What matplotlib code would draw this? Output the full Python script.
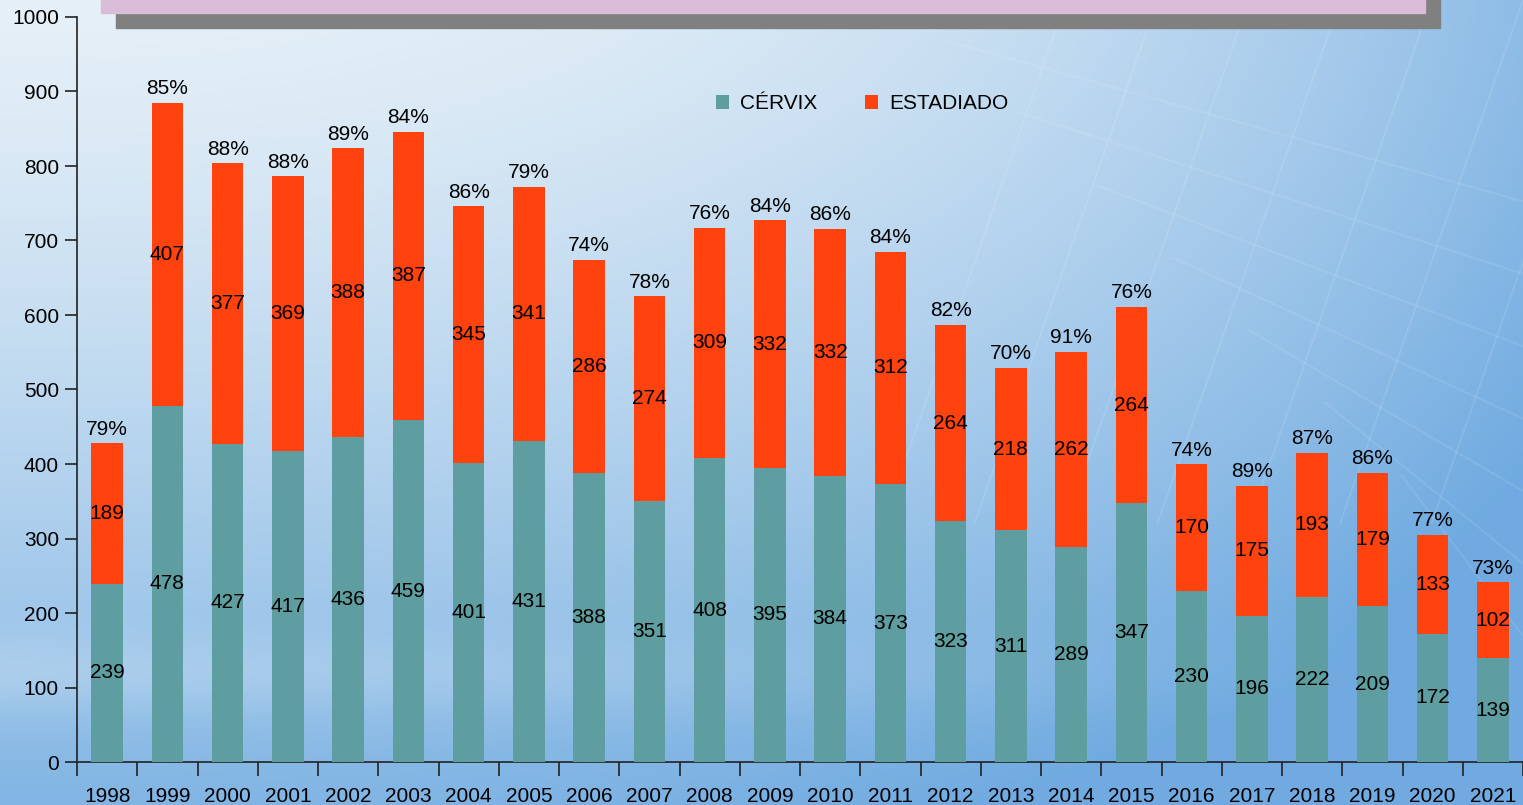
import numpy as np
import matplotlib
matplotlib.use("Agg")
import matplotlib.pyplot as plt
from matplotlib.patches import Rectangle

years = [str(y) for y in range(1998, 2022)]
cervix = [239, 478, 427, 417, 436, 459, 401, 431, 388, 351, 408, 395, 384, 373,
          323, 311, 289, 347, 230, 196, 222, 209, 172, 139]
estadiado = [189, 407, 377, 369, 388, 387, 345, 341, 286, 274, 309, 332, 332, 312,
             264, 218, 262, 264, 170, 175, 193, 179, 133, 102]
percent = ["79%", "85%", "88%", "88%", "89%", "84%", "86%", "79%", "74%", "78%", "76%", "84%",
           "86%", "84%", "82%", "70%", "91%", "76%", "74%", "89%", "87%", "86%", "77%", "73%"]

plt.rcParams['font.family'] = ['Liberation Sans', 'DejaVu Sans']

W, H = 1523, 805
fig = plt.figure(figsize=(W / 100, H / 100), dpi=100)

# background gradient
bg = fig.add_axes([0, 0, 1, 1], zorder=-10)
yy, xx = np.mgrid[0:1:300j, 0:1:450j]
light = np.array([0.90, 0.94, 0.97])
blue = np.array([0.44, 0.67, 0.88])
t = 0.85 * yy ** 1.3 + 0.75 * (xx ** 2.5) * (1 - 0.4 * yy)
t -= 0.18 * np.exp(-((yy - 0.84) / 0.05) ** 2) * (1 - xx)
t = np.clip(t, 0, 1)
img = light[None, None, :] * (1 - t[..., None]) + blue[None, None, :] * t[..., None]
bg.imshow(img, extent=[0, 1, 0, 1], origin='upper', aspect='auto')
for k in range(7):
    x0 = 0.70 + 0.06 * k
    bg.plot([x0, x0 - 0.12], [1.0, 0.35], color='white', alpha=0.10, lw=1.5)
    bg.plot([0.62 + 0.05 * k, 1.0], [0.95 - 0.09 * k, 0.75 - 0.09 * k], color='white', alpha=0.09, lw=1.5)
bg.set_xlim(0, 1)
bg.set_ylim(0, 1)
bg.set_axis_off()

# top title box (cut off)
fig.patches.append(Rectangle((116 / W, 1 - 28 / H), (1440 - 116) / W, 28 / H + 0.01,
                             transform=fig.transFigure, color='#808080', zorder=-5))
fig.patches.append(Rectangle((101 / W, 1 - 13 / H), (1425 - 101) / W, 13 / H + 0.01,
                             transform=fig.transFigure, color='#d9bcd7', zorder=-4))

ax = fig.add_axes([77 / W, (H - 762) / H, 1 - 77 / W, (762 - 17) / H])
ax.set_facecolor('none')
x = np.arange(len(years))
c1, c2 = '#5f9ea0', '#ff420e'
ax.bar(x, cervix, width=0.52, color=c1, label='CÉRVIX', zorder=3)
ax.bar(x, estadiado, width=0.52, bottom=cervix, color=c2, label='ESTADIADO', zorder=3)

fs = 15
for i in range(len(years)):
    ax.text(x[i], cervix[i] / 2, str(cervix[i]), ha='center', va='center', fontsize=fs, zorder=4)
    ax.text(x[i], cervix[i] + estadiado[i] / 2, str(estadiado[i]), ha='center', va='center',
            fontsize=fs, zorder=4)
    ax.text(x[i], cervix[i] + estadiado[i] + 6, percent[i], ha='center', va='bottom',
            fontsize=fs, zorder=4)

ax.set_ylim(0, 1000)
ax.set_xlim(-0.5, (1523 - 77) / 60.4 - 0.5)
ax.set_yticks(range(0, 1001, 100))
ax.set_xticks(x)
ax.set_xticklabels(years)
ax.set_xticks(np.arange(-0.5, len(years), 1), minor=True)
ax.tick_params(axis='x', which='major', length=0, pad=18, labelsize=fs)
ax.tick_params(axis='x', which='minor', length=10, width=1.2, color='#222222')
ax.tick_params(axis='y', length=9, width=1.2, color='#222222', labelsize=fs, pad=4)
for s in ['top', 'right']:
    ax.spines[s].set_visible(False)
for s in ['left', 'bottom']:
    ax.spines[s].set_color('#222222')
    ax.spines[s].set_linewidth(1.2)

ax.legend(loc='upper left', bbox_to_anchor=((708 - 77) / (W - 77), 1 - (86 - 17) / (762 - 17)),
          ncol=2, frameon=False, fontsize=fs, handlelength=0.6, handleheight=0.6,
          handletextpad=0.55, columnspacing=2.3, borderaxespad=0)

fig.savefig('out.png', dpi=100)
